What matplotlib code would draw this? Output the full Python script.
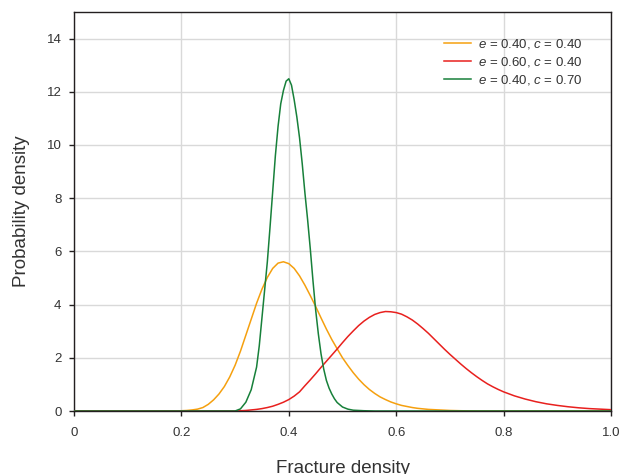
import matplotlib
matplotlib.use("Agg")
import matplotlib.pyplot as plt

plt.rcParams['font.family'] = ['Liberation Sans', 'DejaVu Sans']

# ---- data ----
x_orange = [0.0, 0.19, 0.20, 0.21, 0.22, 0.23, 0.24, 0.25, 0.26, 0.27, 0.28, 0.29,
            0.30, 0.31, 0.32, 0.33, 0.34, 0.35, 0.36, 0.37, 0.38, 0.39, 0.40,
            0.41, 0.42, 0.43, 0.44, 0.45, 0.46, 0.47, 0.48, 0.49, 0.50, 0.51,
            0.52, 0.53, 0.54, 0.55, 0.56, 0.57, 0.58, 0.59, 0.60, 0.61, 0.62,
            0.63, 0.64, 0.66, 0.68, 0.70, 0.72, 0.75, 1.0]
y_orange = [0.0, 0.0, 0.01, 0.02, 0.04, 0.07, 0.13, 0.25, 0.42, 0.64, 0.92, 1.28,
            1.72, 2.25, 2.85, 3.45, 4.05, 4.58, 5.02, 5.36, 5.56, 5.61, 5.54,
            5.36, 5.08, 4.73, 4.34, 3.93, 3.50, 3.08, 2.69, 2.34, 2.00, 1.71,
            1.44, 1.20, 0.99, 0.81, 0.66, 0.53, 0.43, 0.34, 0.27, 0.21, 0.17,
            0.13, 0.10, 0.06, 0.04, 0.02, 0.01, 0.0, 0.0]

x_red = [0.0, 0.30, 0.32, 0.34, 0.35, 0.36, 0.37, 0.38, 0.39, 0.40, 0.41, 0.42,
         0.43, 0.44, 0.45, 0.46, 0.47, 0.48, 0.49, 0.50, 0.51, 0.52, 0.53,
         0.54, 0.55, 0.56, 0.57, 0.58, 0.59, 0.60, 0.61, 0.62, 0.63, 0.64,
         0.65, 0.66, 0.67, 0.68, 0.69, 0.70, 0.71, 0.72, 0.73, 0.74, 0.75,
         0.76, 0.77, 0.78, 0.79, 0.80, 0.82, 0.84, 0.86, 0.88, 0.90, 0.92,
         0.94, 0.96, 0.98, 1.00]
y_red = [0.0, 0.0, 0.02, 0.06, 0.09, 0.13, 0.18, 0.25, 0.33, 0.43, 0.56, 0.72,
         0.95, 1.17, 1.40, 1.64, 1.87, 2.10, 2.33, 2.57, 2.80, 3.01, 3.21,
         3.38, 3.52, 3.63, 3.70, 3.74, 3.73, 3.70, 3.64, 3.54, 3.42, 3.27,
         3.10, 2.92, 2.72, 2.52, 2.32, 2.13, 1.95, 1.77, 1.60, 1.44, 1.29,
         1.15, 1.02, 0.91, 0.81, 0.72, 0.57, 0.45, 0.35, 0.27, 0.21, 0.16,
         0.12, 0.09, 0.07, 0.05]

x_green = [0.0, 0.30, 0.31, 0.32, 0.33, 0.34, 0.345, 0.35, 0.355, 0.36, 0.365,
           0.37, 0.375, 0.38, 0.385, 0.39, 0.395, 0.40, 0.405, 0.41, 0.415,
           0.42, 0.425, 0.43, 0.435, 0.44, 0.445, 0.45, 0.455, 0.46, 0.465,
           0.47, 0.475, 0.48, 0.485, 0.49, 0.50, 0.51, 0.52, 0.54, 0.56, 1.0]
y_green = [0.0, 0.0, 0.08, 0.33, 0.80, 1.65, 2.45, 3.50, 4.55, 5.60, 6.90,
           8.25, 9.60, 10.70, 11.55, 12.05, 12.40, 12.49, 12.25, 11.70, 11.05,
           10.27, 9.30, 8.20, 7.20, 6.10, 4.90, 3.80, 2.90, 2.15, 1.58,
           1.15, 0.86, 0.64, 0.46, 0.32, 0.15, 0.07, 0.03, 0.01, 0.0, 0.0]

labels = [r"$e$ = 0.40, $c$ = 0.40", r"$e$ = 0.60, $c$ = 0.40", r"$e$ = 0.40, $c$ = 0.70"]
colors = ["#F5A00F", "#E8201E", "#17803A"]

x_ticks = [0, 0.2, 0.4, 0.6, 0.8, 1.0]
x_ticklabels = ["0", "0.2", "0.4", "0.6", "0.8", "1.0"]
y_ticks = [0, 2, 4, 6, 8, 10, 12, 14]

plt.rcParams['mathtext.fontset'] = 'custom'
plt.rcParams['mathtext.it'] = 'Liberation Sans:italic'
plt.rcParams['mathtext.rm'] = 'Liberation Sans'

fig = plt.figure(figsize=(6.22, 4.74), dpi=100)
ax = fig.add_axes([74/622, 1 - 411/474, (611 - 74)/622, (411 - 12)/474])

text_color = "#333333"
for xs, ys, col, lab in zip([x_orange, x_red, x_green], [y_orange, y_red, y_green], colors, labels):
    ax.plot(xs, ys, color=col, lw=1.1, label=lab, zorder=3)

ax.set_xlim(0, 1.0)
ax.set_ylim(0, 15)
ax.set_xticks(x_ticks)
ax.set_xticklabels(x_ticklabels)
ax.set_yticks(y_ticks)
ax.grid(True, color="#d9d9d9", lw=1.0, zorder=0)
ax.set_axisbelow(True)

for s in ax.spines.values():
    s.set_color("#231f20")
    s.set_linewidth(1.0)
ax.spines['bottom'].set_zorder(4)

ax.tick_params(axis='both', direction='out', length=3.5, width=1.0, color="#231f20",
               labelsize=9.5, labelcolor=text_color)
ax.tick_params(axis='x', pad=8)
ax.tick_params(axis='y', pad=5.5)

ax.set_xlabel("Fracture density", fontsize=13.5, color=text_color, labelpad=15)
ax.set_ylabel("Probability density", fontsize=13.5, color=text_color, labelpad=12)

leg = ax.legend(loc='upper right', frameon=False, fontsize=9.5, handlelength=2.0,
                handletextpad=0.55, labelspacing=0.3, bbox_to_anchor=(0.957, 0.95),
                borderaxespad=0.0)
for t in leg.get_texts():
    t.set_color(text_color)

fig.savefig("out.png", dpi=100)
